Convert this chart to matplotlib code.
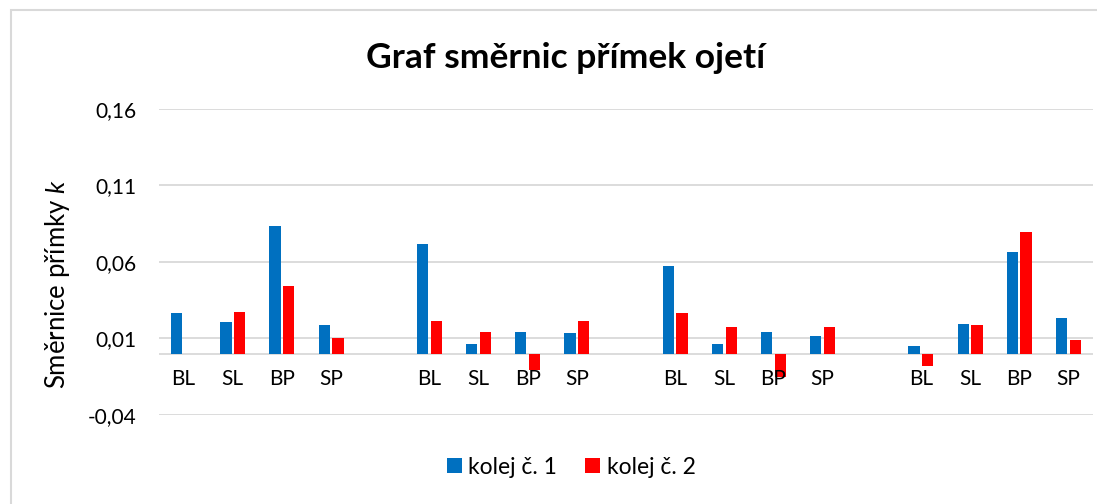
import matplotlib
matplotlib.use('Agg')
import matplotlib.pyplot as plt
from matplotlib.patches import Rectangle
import numpy as np

plt.rcParams['font.family'] = ['Lato', 'DejaVu Sans']
plt.rcParams['mathtext.fontset'] = 'custom'
plt.rcParams['mathtext.it'] = 'Lato:italic'

# data
labels = ['BL', 'SL', 'BP', 'SP', '', 'BL', 'SL', 'BP', 'SP', '',
          'BL', 'SL', 'BP', 'SP', '', 'BL', 'SL', 'BP', 'SP']
kolej1 = [0.0265, 0.0206, 0.0833, 0.0187, np.nan,
          0.0716, 0.0065, 0.0145, 0.0135, np.nan,
          0.0575, 0.0065, 0.0145, 0.0117, np.nan,
          0.0048, 0.0198, 0.0667, 0.0237]
kolej2 = [0.0, 0.0276, 0.0443, 0.0106, np.nan,
          0.0215, 0.0145, -0.0104, 0.0215, np.nan,
          0.0265, 0.0176, -0.0154, 0.0176, np.nan,
          -0.0083, 0.0187, 0.0794, 0.0087]
yticks = [-0.04, 0.01, 0.06, 0.11, 0.16]

blue = '#0070C0'
red = '#FF0000'
grid_c = '#D9D9D9'

fig = plt.figure(figsize=(10.97, 5.04), dpi=100)
fig.patch.set_facecolor('white')
ax = fig.add_axes([159/1097, 1 - 415/504, (1093 - 159)/1097, (415 - 109)/504])

x = np.arange(len(labels))
w = 0.23
off = 0.14
ax.bar(x - off, kolej1, w, color=blue, label='kolej č. 1', zorder=3)
ax.bar(x + off, kolej2, w, color=red, label='kolej č. 2', zorder=3)

ax.set_xlim(-0.5, len(labels) - 0.5)
ax.set_ylim(-0.04, 0.16)
ax.set_yticks(yticks)
ax.set_yticklabels([f'{t:.2f}'.replace('.', ',') for t in yticks], fontsize=15)
ax.tick_params(axis='y', length=0, pad=16.5)
ax.yaxis.grid(True, color=grid_c, linewidth=1.3, zorder=0)
ax.axhline(0, color=grid_c, linewidth=1.3, zorder=1)
for s in ax.spines.values():
    s.set_visible(False)
ax.set_xticks([])

# category labels next to the zero line
for i, lab in enumerate(labels):
    ax.text(i, -0.0165, lab, ha='center', va='center', fontsize=15)

fig.text(57/1097, 1 - 284/504, 'Směrnice přímky $k$', rotation=90,
         ha='center', va='center', fontsize=18.5)
fig.text(566/1097, 1 - 58/504, 'Graf směrnic přímek ojetí', ha='center',
         va='center', fontsize=25.5, fontweight='bold')

ax.legend(loc='center', bbox_to_anchor=(571/1097, 1 - 467/504),
          bbox_transform=fig.transFigure,
          ncol=2, frameon=False, fontsize=16.5, handlelength=0.65,
          handleheight=0.65, handletextpad=0.3, columnspacing=1.2)

fig.add_artist(Rectangle((11/1097, -0.1), 1.2, 1 - 10/504 + 0.1,
                         transform=fig.transFigure, fill=False,
                         edgecolor=grid_c, linewidth=1.5))

fig.savefig('out.png', dpi=100, facecolor='white')
